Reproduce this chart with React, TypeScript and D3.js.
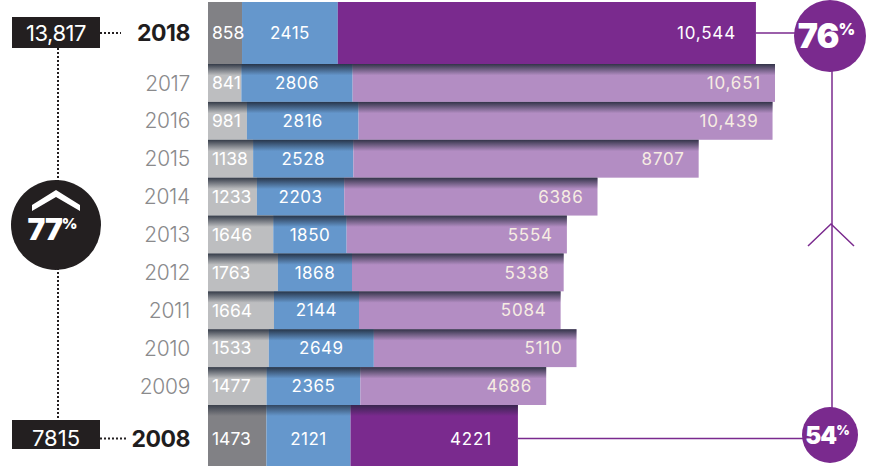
import React from 'react';
import * as d3 from 'd3';

const years = ['2018', '2017', '2016', '2015', '2014', '2013', '2012', '2011', '2010', '2009', '2008'];
const grayVals = [858, 841, 981, 1138, 1233, 1646, 1763, 1664, 1533, 1477, 1473];
const blueVals = [2415, 2806, 2816, 2528, 2203, 1850, 1868, 2144, 2649, 2365, 2121];
const purpleVals = [10544, 10651, 10439, 8707, 6386, 5554, 5338, 5084, 5110, 4686, 4221];
const totalLabels = ['13,817', '7815'];
const pctLabels = ['76', '54', '77'];

const W = 871;
const H = 466;
const fmt = (v: number) => (v >= 10000 ? d3.format(',')(v) : String(v));

const App = () => {
  const x = d3.scaleLinear().domain([0, 14298]).range([208, 775]);
  const mid = years.slice(1, -1);
  const yMid = d3.scaleBand().domain(mid).range([64, 405]).paddingInner(0);
  const rowBox = (yr: string, i: number) => {
    if (i === 0) return { y0: 2, y1: 64 };
    if (i === years.length - 1) return { y0: 405, y1: 466 };
    const y0 = yMid(yr) as number;
    return { y0, y1: y0 + yMid.bandwidth() };
  };
  const isEnd = (i: number) => i === 0 || i === years.length - 1;
  const font = 'Inter, "Open Sans", sans-serif';

  const top = rowBox(years[0], 0);
  const bot = rowBox(years[10], 10);
  const topY = (top.y0 + top.y1) / 2;
  const botY = (bot.y0 + bot.y1) / 2 + 3;
  const topEnd = x(grayVals[0] + blueVals[0] + purpleVals[0]);
  const botEnd = x(grayVals[10] + blueVals[10] + purpleVals[10]);
  const rx = 830;

  return (
    <svg width={W} height={H} style={{ position: 'absolute', left: 0, top: 0, fontFamily: font }}>
      <defs>
        <linearGradient id="shade" x1="0" y1="0" x2="0" y2="1">
          <stop offset="0" stopColor="#1c2433" stopOpacity="0.85" />
          <stop offset="0.3" stopColor="#1c2433" stopOpacity="0" />
        </linearGradient>
        <linearGradient id="shadeEnd" x1="0" y1="0" x2="0" y2="1">
          <stop offset="0" stopColor="#1c2433" stopOpacity="0.7" />
          <stop offset="0.18" stopColor="#1c2433" stopOpacity="0" />
        </linearGradient>
      </defs>

      {years.map((yr, i) => {
        const { y0, y1 } = rowBox(yr, i);
        const h = y1 - y0;
        const cy = i === 10 ? botY : (y0 + y1) / 2;
        const g = grayVals[i];
        const b = blueVals[i];
        const p = purpleVals[i];
        const end = isEnd(i);
        const grayC = end ? '#818185' : '#bdbec0';
        const purpC = end ? '#7a2a8e' : '#b38dc3';
        const purpText = end ? '#ffffff' : '#f6ece2';
        const pad = i === 10 ? 26 : end ? 20 : 14;
        return (
          <g key={yr}>
            <rect x={x(0)} y={y0} width={x(g) - x(0)} height={h} fill={grayC} />
            <rect x={x(g)} y={y0} width={x(g + b) - x(g)} height={h} fill="#6597cc" />
            <rect x={x(g + b)} y={y0} width={x(g + b + p) - x(g + b)} height={h} fill={purpC} />
            {i > 0 && (
              <rect x={x(0)} y={y0} width={x(g + b + p) - x(0)} height={h} fill={end ? 'url(#shadeEnd)' : 'url(#shade)'} />
            )}
            <text x={x(0) + 4} y={cy} dy="0.36em" fill="#fff" fontSize={17.5}>{g}</text>
            <text x={(x(g) + x(g + b)) / 2} y={cy} dy="0.36em" fill="#fff" fontSize={17} textAnchor="middle" letterSpacing={0.5}>{b}</text>
            <text x={x(g + b + p) - pad} y={cy} dy="0.36em" fill={purpText} fontSize={17} textAnchor="end" letterSpacing={0.8}>{fmt(p)}</text>
            <text
              x={190}
              y={cy}
              dy="0.36em"
              textAnchor="end"
              fontSize={end ? 23 : 21}
              fontWeight={end ? 700 : 300}
              fill={end ? '#1f1d1e' : '#8a8a8c'}
              letterSpacing={end ? -0.5 : -0.3}
            >
              {yr}
            </text>
          </g>
        );
      })}

      {/* left total markers */}
      <line x1={58} y1={48} x2={58} y2={420} stroke="#231f20" strokeWidth={2} strokeDasharray="2,2" />
      <line x1={100} y1={topY} x2={121} y2={topY} stroke="#231f20" strokeWidth={2} strokeDasharray="2,2" />
      <line x1={100} y1={botY} x2={128} y2={botY} stroke="#231f20" strokeWidth={2} strokeDasharray="2,2" />
      <rect x={12} y={17} width={88} height={31} fill="#231f20" />
      <text x={56} y={topY} dy="0.36em" textAnchor="middle" fill="#fff" fontSize={22} letterSpacing={-0.5}>{totalLabels[0]}</text>
      <rect x={12} y={420} width={88} height={29} fill="#231f20" />
      <text x={56} y={botY} dy="0.36em" textAnchor="middle" fill="#fff" fontSize={22}>{totalLabels[1]}</text>

      <circle cx={56} cy={225} r={45} fill="#231f20" />
      <path d="M32,205 L56,190 L80,205 L80,211 L56,197 L32,211 Z" fill="#fff" />
      <text x={52} y={240} textAnchor="middle" fill="#fff" fontSize={30} fontWeight={900} letterSpacing={-1}>
        {pctLabels[2]}
        <tspan fontSize={15} dy={-11}>%</tspan>
      </text>

      {/* right change markers */}
      <line x1={topEnd} y1={topY} x2={rx} y2={topY} stroke="#7a2a8e" strokeWidth={1.5} />
      <line x1={botEnd} y1={botY} x2={rx} y2={botY} stroke="#7a2a8e" strokeWidth={1.5} />
      <line x1={rx + 2} y1={topY} x2={rx + 2} y2={botY} stroke="#7a2a8e" strokeWidth={1.5} />
      <path d="M808,246 L831,224 L854,246" fill="none" stroke="#7a2a8e" strokeWidth={1.5} />
      <circle cx={rx} cy={36} r={36} fill="#7a2a8e" />
      <text x={rx - 4} y={48} textAnchor="middle" fill="#fff" fontSize={34} fontWeight={900} letterSpacing={-1}>
        {pctLabels[0]}
        <tspan fontSize={16} dy={-13}>%</tspan>
      </text>
      <circle cx={rx} cy={435} r={28} fill="#7a2a8e" />
      <text x={rx - 3} y={444} textAnchor="middle" fill="#fff" fontSize={24} fontWeight={900} letterSpacing={-1}>
        {pctLabels[1]}
        <tspan fontSize={13} dy={-9}>%</tspan>
      </text>
    </svg>
  );
};

export default App;
